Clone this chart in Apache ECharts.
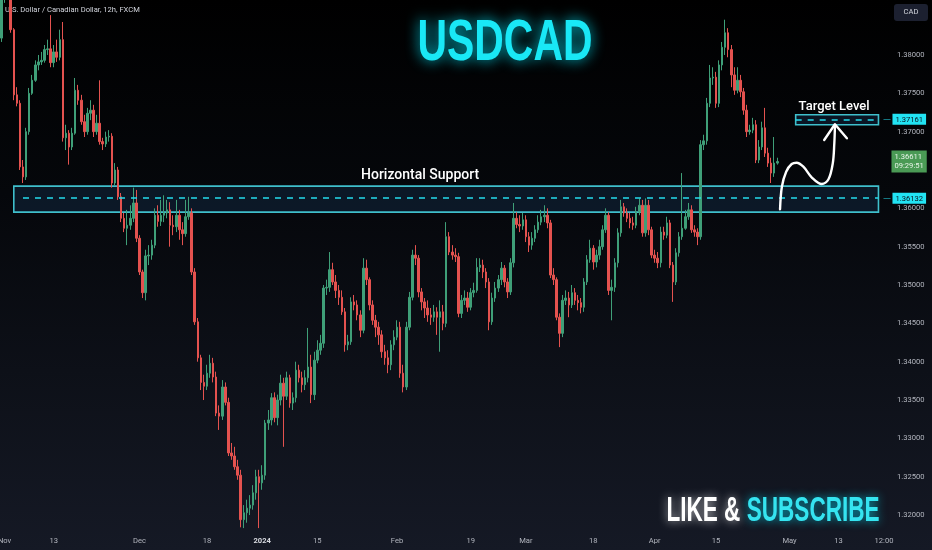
<!DOCTYPE html>
<html><head><meta charset="utf-8">
<script src="https://cdn.jsdelivr.net/npm/echarts@6/dist/echarts.min.js"></script>
<style>html,body{margin:0;padding:0;background:#000;}#c{width:932px;height:550px;}</style>
</head><body><div id="c"></div>
<script>
// ---- data (USDCAD 12h, FXCM) ----
const firstOpen = 1.3822;
const closes = [
1.3878,1.3890,1.3884,1.3833,1.3748,1.3737,1.3654,1.3641,1.3700,1.3750,
1.3767,1.3787,1.3791,1.3793,1.3807,1.3808,1.3790,1.3804,1.3797,1.3820,
1.3692,1.3698,1.3680,1.3698,1.3754,1.3741,1.3713,1.3700,1.3724,1.3728,
1.3700,1.3711,1.3687,1.3684,1.3693,1.3694,1.3633,1.3650,1.3615,1.3587,
1.3574,1.3578,1.3587,1.3607,1.3561,1.3517,1.3490,1.3538,1.3539,1.3552,
1.3591,1.3583,1.3591,1.3594,1.3598,1.3578,1.3576,1.3591,1.3572,1.3567,
1.3589,1.3594,1.3517,1.3452,1.3405,1.3373,1.3368,1.3385,1.3398,1.3380,
1.3333,1.3329,1.3367,1.3347,1.3281,1.3277,1.3263,1.3252,1.3194,1.3203,
1.3209,1.3213,1.3229,1.3250,1.3242,1.3252,1.3320,1.3324,1.3353,1.3327,
1.3350,1.3372,1.3355,1.3379,1.3346,1.3353,1.3389,1.3379,1.3370,1.3379,
1.3393,1.3357,1.3402,1.3415,1.3424,1.3496,1.3497,1.3520,1.3504,1.3493,
1.3484,1.3465,1.3422,1.3426,1.3478,1.3474,1.3461,1.3441,1.3522,1.3507,
1.3474,1.3454,1.3445,1.3435,1.3413,1.3405,1.3396,1.3422,1.3432,1.3445,
1.3385,1.3367,1.3445,1.3484,1.3539,1.3535,1.3491,1.3478,1.3470,1.3461,
1.3458,1.3465,1.3458,1.3465,1.3450,1.3563,1.3543,1.3539,1.3537,1.3463,
1.3480,1.3483,1.3471,1.3490,1.3493,1.3523,1.3526,1.3517,1.3504,1.3452,
1.3483,1.3496,1.3507,1.3522,1.3504,1.3491,1.3529,1.3587,1.3579,1.3577,
1.3585,1.3563,1.3552,1.3561,1.3572,1.3582,1.3589,1.3591,1.3581,1.3513,
1.3507,1.3458,1.3437,1.3480,1.3483,1.3474,1.3490,1.3480,1.3477,1.3471,
1.3504,1.3533,1.3548,1.3530,1.3539,1.3550,1.3572,1.3591,1.3493,1.3497,
1.3529,1.3568,1.3602,1.3594,1.3587,1.3581,1.3578,1.3595,1.3604,1.3568,
1.3604,1.3572,1.3539,1.3535,1.3529,1.3569,1.3565,1.3581,1.3526,1.3504,
1.3542,1.3563,1.3574,1.3589,1.3598,1.3572,1.3569,1.3563,1.3683,1.3688,
1.3737,1.3770,1.3771,1.3737,1.3787,1.3810,1.3829,1.3807,1.3774,1.3754,
1.3767,1.3752,1.3728,1.3700,1.3702,1.3709,1.3663,1.3680,1.3705,1.3672,
1.3659,1.3646,1.3659,1.36611];
const highs = [
1.3885,1.3899,1.3897,1.3892,1.3835,1.3758,1.3741,1.3663,1.3705,1.3757,
1.3774,1.3793,1.3800,1.3804,1.3813,1.3820,1.3852,1.3813,1.3820,1.3833,
1.3843,1.3709,1.3702,1.3705,1.3770,1.3761,1.3748,1.3722,1.3731,1.3741,
1.3735,1.3722,1.3767,1.3692,1.3700,1.3702,1.3698,1.3659,1.3654,1.3620,
1.3594,1.3598,1.3604,1.3627,1.3624,1.3565,1.3520,1.3546,1.3552,1.3559,
1.3600,1.3604,1.3611,1.3617,1.3611,1.3608,1.3591,1.3611,1.3598,1.3582,
1.3611,1.3615,1.3600,1.3522,1.3457,1.3409,1.3383,1.3396,1.3409,1.3405,
1.3387,1.3343,1.3376,1.3373,1.3353,1.3294,1.3289,1.3272,1.3259,1.3213,
1.3220,1.3226,1.3239,1.3259,1.3259,1.3265,1.3324,1.3337,1.3359,1.3360,
1.3357,1.3383,1.3379,1.3387,1.3383,1.3360,1.3400,1.3396,1.3387,1.3389,
1.3444,1.3409,1.3413,1.3428,1.3435,1.3500,1.3507,1.3543,1.3529,1.3513,
1.3500,1.3493,1.3470,1.3435,1.3484,1.3487,1.3480,1.3467,1.3535,1.3533,
1.3510,1.3480,1.3461,1.3452,1.3441,1.3422,1.3415,1.3428,1.3441,1.3454,
1.3452,1.3396,1.3452,1.3491,1.3546,1.3552,1.3539,1.3496,1.3483,1.3480,
1.3470,1.3474,1.3471,1.3480,1.3474,1.3582,1.3569,1.3552,1.3548,1.3542,
1.3487,1.3493,1.3491,1.3496,1.3503,1.3535,1.3535,1.3533,1.3522,1.3509,
1.3490,1.3504,1.3513,1.3530,1.3526,1.3509,1.3535,1.3607,1.3595,1.3591,
1.3594,1.3591,1.3569,1.3569,1.3578,1.3591,1.3598,1.3604,1.3600,1.3585,
1.3522,1.3510,1.3463,1.3487,1.3493,1.3491,1.3500,1.3496,1.3487,1.3483,
1.3509,1.3539,1.3559,1.3552,1.3546,1.3559,1.3578,1.3600,1.3595,1.3507,
1.3535,1.3574,1.3611,1.3607,1.3600,1.3594,1.3589,1.3602,1.3613,1.3611,
1.3613,1.3611,1.3576,1.3546,1.3543,1.3576,1.3576,1.3589,1.3585,1.3530,
1.3548,1.3569,1.3646,1.3598,1.3607,1.3604,1.3578,1.3574,1.3689,1.3696,
1.3744,1.3787,1.3784,1.3778,1.3793,1.3817,1.3846,1.3835,1.3813,1.3784,
1.3784,1.3774,1.3757,1.3735,1.3709,1.3718,1.3715,1.3689,1.3713,1.3731,
1.3679,1.3666,1.3693,1.3666];
const lows = [
1.3817,1.3868,1.3878,1.3829,1.3741,1.3733,1.3650,1.3633,1.3637,1.3696,
1.3748,1.3765,1.3780,1.3787,1.3790,1.3800,1.3784,1.3784,1.3791,1.3793,
1.3687,1.3676,1.3657,1.3676,1.3696,1.3735,1.3709,1.3693,1.3696,1.3715,
1.3693,1.3696,1.3683,1.3676,1.3680,1.3687,1.3627,1.3630,1.3611,1.3582,
1.3569,1.3552,1.3572,1.3582,1.3556,1.3513,1.3483,1.3480,1.3526,1.3533,
1.3548,1.3576,1.3577,1.3582,1.3587,1.3550,1.3565,1.3569,1.3559,1.3552,
1.3563,1.3585,1.3513,1.3448,1.3400,1.3363,1.3350,1.3363,1.3379,1.3373,
1.3329,1.3311,1.3324,1.3343,1.3277,1.3272,1.3259,1.3246,1.3184,1.3183,
1.3190,1.3200,1.3207,1.3220,1.3183,1.3233,1.3246,1.3311,1.3317,1.3321,
1.3317,1.3343,1.3289,1.3350,1.3340,1.3337,1.3347,1.3373,1.3360,1.3363,
1.3373,1.3346,1.3350,1.3398,1.3409,1.3418,1.3487,1.3491,1.3500,1.3483,
1.3474,1.3461,1.3413,1.3415,1.3422,1.3467,1.3454,1.3432,1.3437,1.3500,
1.3467,1.3448,1.3432,1.3422,1.3405,1.3396,1.3385,1.3389,1.3415,1.3428,
1.3379,1.3360,1.3363,1.3441,1.3480,1.3526,1.3484,1.3467,1.3457,1.3452,
1.3448,1.3452,1.3435,1.3413,1.3441,1.3445,1.3539,1.3533,1.3530,1.3458,
1.3457,1.3474,1.3465,1.3467,1.3484,1.3490,1.3517,1.3509,1.3496,1.3441,
1.3448,1.3478,1.3491,1.3500,1.3497,1.3483,1.3487,1.3523,1.3574,1.3569,
1.3572,1.3556,1.3543,1.3546,1.3556,1.3568,1.3578,1.3582,1.3574,1.3509,
1.3500,1.3454,1.3419,1.3432,1.3474,1.3458,1.3470,1.3474,1.3467,1.3463,
1.3465,1.3500,1.3529,1.3520,1.3523,1.3533,1.3546,1.3568,1.3487,1.3454,
1.3491,1.3523,1.3563,1.3589,1.3582,1.3574,1.3572,1.3574,1.3591,1.3563,
1.3563,1.3565,1.3535,1.3529,1.3522,1.3523,1.3559,1.3561,1.3522,1.3478,
1.3500,1.3537,1.3559,1.3572,1.3585,1.3568,1.3563,1.3552,1.3559,1.3676,
1.3683,1.3732,1.3761,1.3731,1.3732,1.3780,1.3800,1.3797,1.3758,1.3748,
1.3750,1.3745,1.3722,1.3693,1.3696,1.3698,1.3659,1.3659,1.3676,1.3667,
1.3654,1.3633,1.3641,1.3657];

const yTickValues = [1.32,1.325,1.33,1.335,1.34,1.345,1.35,1.355,1.36,1.37,1.375,1.38];
const xTickLabels = [
  ['2023-11-01 00:00','Nov'],['2023-11-13 00:00','13'],['2023-12-01 00:00','Dec'],
  ['2023-12-18 00:00','18'],['2024-01-02 00:00','2024'],['2024-01-15 00:00','15'],
  ['2024-02-01 00:00','Feb'],['2024-02-19 00:00','19'],['2024-03-01 00:00','Mar'],
  ['2024-03-18 00:00','18'],['2024-04-01 00:00','Apr'],['2024-04-15 00:00','15'],
  ['2024-05-01 00:00','May'],['2024-05-13 00:00','13']];
const supportLevel = 1.36132, supportTop = 1.3629, supportBottom = 1.3595;
const targetLevel = 1.37161, targetTop = 1.3722, targetBottom = 1.3709;
const lastPrice = 1.36611, countdown = '09:29:51';
// hand-drawn arrow (bar index, price)
const arrowCurve = [[253.9,1.35988],[254.5,1.36282],[255.9,1.36478],[257.7,1.36578],[259.3,1.36595],
  [261.5,1.36543],[264.2,1.36405],[267.5,1.36317],[269.7,1.36379],[271.1,1.36587],[271.6,1.36848],[271.8,1.37074]];
const arrowHead = [[268.3,1.36891],[271.8,1.37096],[275.7,1.36914]];

// ---- categories: 12h bars, trading days only ----
const categories = [];
const skipDays = ['2023-12-25','2024-01-01'];
let t = Date.UTC(2023, 9, 31, 12);
while (categories.length < 287) {
  const d = new Date(t), iso = d.toISOString(), wd = d.getUTCDay();
  if (wd !== 0 && wd !== 6 && skipDays.indexOf(iso.slice(0,10)) < 0) categories.push(iso.slice(0,10) + ' ' + iso.slice(11,16));
  t += 12 * 3600 * 1000;
}
const labelMap = {};
xTickLabels.forEach(p => labelMap[p[0]] = p[1]);

const opens = [firstOpen].concat(closes.slice(0, -1));
const ohlc = closes.map((c, i) => [opens[i], c, lows[i], highs[i]]);

const UP = '#3f9f78', DOWN = '#e4524f', CYAN = '#25dced', TXT = '#b2b5be';
const FONT = 'Roboto';
const cyanTag = v => ({show: true, position: 'end', distance: 5, formatter: '{d|—}{b|' + v.toFixed(5) + '}',
  rich: {d: {color: CYAN, fontSize: 7, padding: [0, 2, 0, 0]},
         b: {backgroundColor: '#22e3f3', color: '#0a1520', fontSize: 7.6, fontFamily: FONT, padding: [2, 3, 1, 3]}}});

const chart = echarts.init(document.getElementById('c'), null, {renderer: 'canvas'});
chart.setOption({
  animation: false,
  backgroundColor: new echarts.graphic.LinearGradient(0, 0, 0, 1, [
    {offset: 0, color: '#000000'}, {offset: 0.35, color: '#05070b'}, {offset: 1, color: '#151925'}]),
  grid: {left: 0, right: 52, top: 0, bottom: 20, containLabel: false, outerBoundsMode: 'none'},
  xAxis: [{
    type: 'category', data: categories, boundaryGap: true,
    axisLine: {show: false}, axisTick: {show: false}, splitLine: {show: false},
    axisLabel: {
      color: TXT, fontSize: 7.6, fontFamily: FONT, margin: 7,
      interval: (i, v) => labelMap[v] !== undefined,
      formatter: v => labelMap[v] === '2024' ? '{y|2024}' : (labelMap[v] || ''),
      rich: {y: {color: '#d8dae0', fontSize: 7.6, fontWeight: 'bold', fontFamily: FONT}}
    }
  }, {
    type: 'value', min: -0.5, max: 286.5, show: false
  }],
  yAxis: {
    type: 'value', position: 'right', min: 1.31805, max: 1.38717,
    axisLine: {show: false}, axisTick: {show: false}, splitLine: {show: false},
    axisLabel: {color: TXT, fontSize: 7.6, fontFamily: FONT, margin: 17,
      customValues: yTickValues, formatter: v => v.toFixed(5)}
  },
  series: [{
    type: 'candlestick', data: ohlc, barWidth: 2, clip: true,
    itemStyle: {color: UP, color0: DOWN, borderColor: UP, borderColor0: DOWN, borderWidth: 1},
    markArea: {
      silent: true,
      data: [
        [{xAxis: categories[4], yAxis: supportTop, name: 'Horizontal Support',
          itemStyle: {color: 'rgba(30,70,110,0.28)', borderColor: '#3fbfcc', borderWidth: 1.6},
          label: {show: true, position: 'top', distance: 3, offset: [-26, 0], color: '#ffffff',
            fontSize: 14, fontFamily: FONT, fontWeight: 500}},
         {xAxis: categories[286], yAxis: supportBottom}],
        [{xAxis: categories[259], yAxis: targetTop, name: 'Target Level',
          itemStyle: {color: 'rgba(30,70,110,0.28)', borderColor: '#3fbfcc', borderWidth: 1.6},
          label: {show: true, position: 'top', distance: 1, offset: [-3, 0], color: '#ffffff',
            fontSize: 13, fontFamily: FONT, fontWeight: 500}},
         {xAxis: categories[286], yAxis: targetBottom}]
      ]
    },
    markLine: {
      silent: true, symbol: ['none', 'none'],
      data: [
        [{coord: [categories[7], supportLevel], lineStyle: {color: CYAN, width: 1.5, type: [6, 6]}, label: cyanTag(supportLevel)},
         {coord: [categories[286], supportLevel]}],
        [{coord: [categories[259], targetLevel], lineStyle: {color: CYAN, width: 1.5, type: [6, 6]}, label: cyanTag(targetLevel)},
         {coord: [categories[286], targetLevel]}],
        [{coord: [categories[285], lastPrice], lineStyle: {color: 'rgba(0,0,0,0)', width: 0},
          label: {show: true, position: 'end', distance: 13, formatter: '{g|' + lastPrice.toFixed(5) + '}\n{g|' + countdown + '}',
            backgroundColor: '#4a9a55', padding: [1.5, 3, 1.5, 3],
            rich: {g: {color: '#e8f4e8', fontSize: 7.6, fontFamily: FONT, lineHeight: 9.5}}}},
         {coord: [categories[286], lastPrice]}]
      ]
    }
  }, {
    type: 'line', xAxisIndex: 1, data: arrowCurve, smooth: 0.35, symbol: 'none', silent: true, z: 10,
    lineStyle: {color: '#ffffff', width: 2.4, cap: 'round'}
  }, {
    type: 'line', xAxisIndex: 1, data: arrowHead, smooth: false, symbol: 'none', silent: true, z: 10,
    lineStyle: {color: '#ffffff', width: 2.4, cap: 'round', join: 'round'}
  }],
  graphic: [
    {type: 'text', left: 5, top: 6, silent: true,
     style: {text: 'U.S. Dollar / Canadian Dollar, 12h, FXCM', fill: '#d1d4dc', fontSize: 7.6, fontFamily: FONT}},
    {type: 'group', x: 505, y: 44, scaleX: 0.705, silent: true, children: [
      {type: 'text', x: 0, y: 0, style: {text: 'USDCAD', fill: '#19e8f6', font: 'bold 58px "Liberation Sans"',
        align: 'center', verticalAlign: 'middle', textShadowColor: 'rgba(0,235,255,0.85)', textShadowBlur: 14}}]},
    {type: 'group', x: 773, y: 511, scaleX: 0.645, silent: true, children: [
      {type: 'text', x: 0, y: 0, style: {text: '{w|LIKE &} {c|SUBSCRIBE}', align: 'center', verticalAlign: 'middle',
        font: 'bold 35px "Liberation Sans"',
        rich: {w: {fill: '#ffffff', font: 'bold 35px "Liberation Sans"', textShadowColor: 'rgba(255,255,255,0.7)', textShadowBlur: 10},
               c: {fill: '#35e4f0', font: 'bold 35px "Liberation Sans"', textShadowColor: 'rgba(0,230,255,0.7)', textShadowBlur: 10}}}}]},
    {type: 'rect', shape: {x: 894, y: 4, width: 34, height: 17, r: 3}, style: {fill: '#1c2030'}, silent: true},
    {type: 'text', x: 911, y: 12.5, silent: true,
     style: {text: 'CAD', fill: '#d1d4dc', fontSize: 7.6, fontFamily: FONT, align: 'center', verticalAlign: 'middle'}},
    {type: 'text', x: 884, y: 541, silent: true,
     style: {text: '12:00', fill: TXT, fontSize: 7.6, fontFamily: FONT, align: 'center', verticalAlign: 'middle'}}
  ]
});
</script></body></html>
